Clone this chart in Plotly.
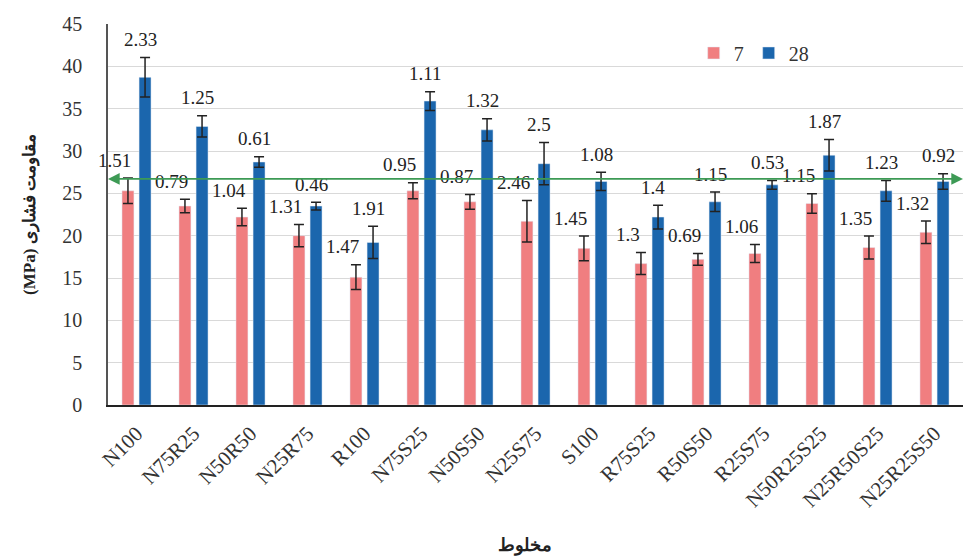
import plotly.graph_objects as go

categories = ["N100", "N75R25", "N50R50", "N25R75", "R100", "N75S25", "N50S50", "N25S75",
              "S100", "R75S25", "R50S50", "R25S75", "N50R25S25", "N25R50S25", "N25R25S50"]
strength_7 = [25.3, 23.5, 22.2, 20.0, 15.1, 25.3, 24.0, 21.7, 18.5, 16.7, 17.2, 17.9, 23.8, 18.6, 20.4]
err_7 = [1.51, 0.79, 1.04, 1.31, 1.47, 0.95, 0.87, 2.46, 1.45, 1.3, 0.69, 1.06, 1.15, 1.35, 1.32]
strength_28 = [38.7, 32.9, 28.7, 23.5, 19.2, 35.9, 32.5, 28.5, 26.4, 22.2, 24.0, 26.0, 29.5, 25.3, 26.4]
err_28 = [2.33, 1.25, 0.61, 0.46, 1.91, 1.11, 1.32, 2.5, 1.08, 1.4, 1.15, 0.53, 1.87, 1.23, 0.92]
reference_line = 26.7
y_ticks = [0, 5, 10, 15, 20, 25, 30, 35, 40, 45]

PINK = "#f07e80"
BLUE = "#1b66ad"
SERIF = "Liberation Serif"

idx = list(range(len(categories)))
off = 0.15
x7 = [i - off for i in idx]
x28 = [i + off for i in idx]

fig = go.Figure()
fig.add_trace(go.Bar(
    x=x7, y=strength_7, width=0.21, name="7", marker_color=PINK,
    error_y=dict(type="data", array=err_7, color="#222", thickness=1.5, width=5),
))
fig.add_trace(go.Bar(
    x=x28, y=strength_28, width=0.21, name="28", marker_color=BLUE,
    error_y=dict(type="data", array=err_28, color="#222", thickness=1.5, width=5),
))

annotations = []
for xs, vals, errs, xsh in ((x7, strength_7, err_7, -13), (x28, strength_28, err_28, -5)):
    for x, v, e in zip(xs, vals, errs):
        annotations.append(dict(
            x=x, y=v + e, xref="x", yref="y", text=f"{e:g}", showarrow=False,
            xshift=xsh, yshift=18, yanchor="middle",
            font=dict(family=SERIF, size=19, color="#222"),
        ))

# green reference line with arrowheads at both ends
xmid = (len(categories) - 1) / 2
for xend in (-0.5, len(categories) - 0.5):
    annotations.append(dict(
        x=xend, y=reference_line, ax=xmid, ay=reference_line,
        xref="x", yref="y", axref="x", ayref="y", text="",
        showarrow=True, arrowhead=2, arrowsize=1.3, arrowwidth=1.8,
        arrowcolor="#3d9a55",
    ))

annotations.append(dict(
    x=0.488, y=0, xref="paper", yref="paper", text="<b>مخلوط</b>", showarrow=False,
    yshift=-128, yanchor="top", font=dict(family=SERIF, size=18, color="#222"),
))

fig.update_layout(
    width=963, height=559,
    margin=dict(l=108, r=0, t=24, b=154),
    plot_bgcolor="white", paper_bgcolor="white",
    barmode="overlay",
    showlegend=True,
    legend=dict(orientation="h", x=0.685, y=0.924, xanchor="left", yanchor="middle",
                font=dict(family=SERIF, size=20, color="#333"),
                bgcolor="rgba(0,0,0,0)", itemwidth=30),
    annotations=annotations,
    font=dict(family=SERIF, color="#222"),
)
fig.update_xaxes(
    range=[-0.5, len(categories) - 0.5],
    tickmode="array", tickvals=idx, ticktext=categories,
    tickangle=-45, tickfont=dict(family=SERIF, size=21, color="#333"),
    showgrid=False, showline=True, linecolor="#222", linewidth=2,
    ticks="outside", ticklen=6, tickcolor="rgba(0,0,0,0)", zeroline=False,
)
fig.update_yaxes(
    range=[0, 45], tickmode="array", tickvals=y_ticks,
    tickfont=dict(family=SERIF, size=20, color="#333"),
    showgrid=True, gridcolor="#d9d9d9", gridwidth=1,
    showline=True, linecolor="#555", linewidth=1.5,
    ticks="outside", ticklen=20, tickcolor="rgba(0,0,0,0)",
    zeroline=False,
    title=dict(text="<b>(MPa) مقاومت فشاری</b>", font=dict(family=SERIF, size=17, color="#222"),
               standoff=22),
)

fig.write_html("out.html", config={"displayModeBar": False},
               post_script="document.body.style.margin='0';document.body.style.overflow='hidden';")
